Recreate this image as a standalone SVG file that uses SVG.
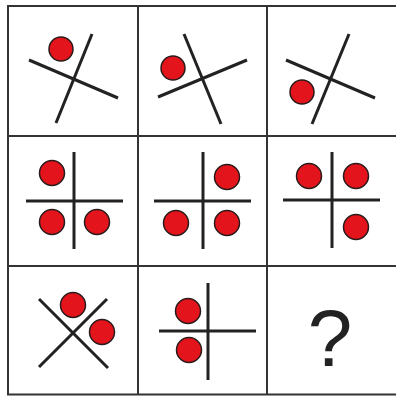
<svg xmlns="http://www.w3.org/2000/svg" width="396" height="396" viewBox="0 0 396 396">
<style>
.grid{stroke:#333;stroke-width:2;fill:none}
.ln{stroke:#222;stroke-width:3;stroke-linecap:butt}
.dot{fill:#e3141c;stroke:#2a1a1a;stroke-width:1.5}
.q{font-family:"Liberation Sans",Arial,sans-serif;font-size:80px;fill:#222}
</style>
<rect width="396" height="396" fill="#fff"/>
<g id="grid" class="grid">
<line x1="8" y1="5" x2="8" y2="395"/>
<line x1="7" y1="6" x2="396" y2="6"/>
<line x1="7" y1="394.5" x2="396" y2="394.5"/>
<line x1="138" y1="6" x2="138" y2="395"/>
<line x1="267" y1="6" x2="267" y2="395"/>
<line x1="8" y1="136" x2="396" y2="136"/>
<line x1="8" y1="266" x2="396" y2="266"/>
</g>
<g id="cell1">
<line class="ln" x1="29" y1="60" x2="118" y2="98"/>
<line class="ln" x1="92" y1="34" x2="56" y2="123"/>
<circle class="dot" cx="61" cy="49" r="12"/>
</g>
<g id="cell2">
<line class="ln" x1="158" y1="97" x2="247" y2="60"/>
<line class="ln" x1="184" y1="34" x2="221" y2="124"/>
<circle class="dot" cx="173" cy="68" r="12"/>
</g>
<g id="cell3">
<line class="ln" x1="286" y1="60" x2="375" y2="98"/>
<line class="ln" x1="349" y1="34" x2="312" y2="124"/>
<circle class="dot" cx="302" cy="92" r="12"/>
</g>
<g id="cell4">
<line class="ln" x1="26" y1="201" x2="123" y2="201"/>
<line class="ln" x1="74" y1="152" x2="74" y2="249"/>
<circle class="dot" cx="52" cy="173" r="12.5"/>
<circle class="dot" cx="52" cy="222" r="12.5"/>
<circle class="dot" cx="97" cy="222" r="12.5"/>
</g>
<g id="cell5">
<line class="ln" x1="154" y1="201" x2="251" y2="201"/>
<line class="ln" x1="203" y1="152" x2="203" y2="249"/>
<circle class="dot" cx="227" cy="177" r="12.5"/>
<circle class="dot" cx="176" cy="223" r="12.5"/>
<circle class="dot" cx="227" cy="223" r="12.5"/>
</g>
<g id="cell6">
<line class="ln" x1="283" y1="200" x2="380" y2="200"/>
<line class="ln" x1="332" y1="152" x2="332" y2="248"/>
<circle class="dot" cx="309" cy="176" r="12.5"/>
<circle class="dot" cx="356" cy="176" r="12.5"/>
<circle class="dot" cx="356" cy="227" r="12.5"/>
</g>
<g id="cell7">
<line class="ln" x1="39" y1="299" x2="108" y2="368"/>
<line class="ln" x1="107" y1="299" x2="39" y2="367"/>
<circle class="dot" cx="73" cy="305" r="12.5"/>
<circle class="dot" cx="102" cy="332" r="12.5"/>
</g>
<g id="cell8">
<line class="ln" x1="159" y1="331" x2="256" y2="331"/>
<line class="ln" x1="208" y1="283" x2="208" y2="380"/>
<circle class="dot" cx="188" cy="311" r="12.5"/>
<circle class="dot" cx="189" cy="350" r="12.5"/>
</g>
<g id="cell9">
<text class="q" x="330" y="366" text-anchor="middle">?</text>
</g>
</svg>
